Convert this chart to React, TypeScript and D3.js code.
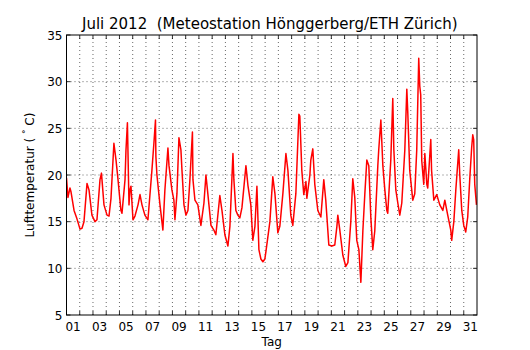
import * as d3 from 'd3';

// time in day-of-month (1.0 = 1 July 00:00), temperature in °C
const times = [
  1.00, 1.11, 1.26, 1.34, 1.57, 1.79, 2.02, 2.17, 2.32, 2.55, 2.70, 2.92, 3.15, 3.30, 3.53, 3.64,
  3.83, 4.06, 4.21, 4.36, 4.58, 4.74, 4.89, 5.11, 5.19, 5.42, 5.49, 5.60, 5.72, 5.79, 5.87, 6.02,
  6.17, 6.40, 6.55, 6.70, 6.92, 7.15, 7.45, 7.60, 7.72, 7.75, 7.83, 8.06, 8.28, 8.43, 8.66, 8.74,
  8.96, 9.11, 9.19, 9.34, 9.49, 9.64, 9.72, 9.87, 10.02, 10.17, 10.32, 10.51, 10.55, 10.70, 10.92,
  11.15, 11.38, 11.53, 11.68, 11.91, 12.13, 12.28, 12.58, 12.74, 12.96, 13.19, 13.34, 13.57, 13.64,
  13.79, 13.94, 14.09, 14.25, 14.55, 14.70, 14.92, 15.07, 15.23, 15.38, 15.53, 15.68, 15.83, 15.98,
  16.06, 16.36, 16.58, 16.74, 16.96, 17.11, 17.34, 17.57, 17.72, 17.94, 18.09, 18.32, 18.55, 18.62,
  18.77, 18.92, 19.08, 19.15, 19.38, 19.45, 19.60, 19.75, 19.98, 20.21, 20.43, 20.58, 20.81, 21.04,
  21.26, 21.42, 21.49, 21.64, 21.87, 22.09, 22.25, 22.47, 22.62, 22.77, 22.92, 23.08, 23.23, 23.38,
  23.53, 23.68, 23.83, 23.98, 24.13, 24.28, 24.51, 24.58, 24.74, 24.89, 25.04, 25.19, 25.26, 25.49,
  25.64, 25.72, 25.87, 26.02, 26.17, 26.32, 26.55, 26.70, 26.77, 26.92, 27.15, 27.30, 27.45, 27.60,
  27.68, 27.75, 27.83, 27.98, 28.06, 28.21, 28.28, 28.51, 28.57, 28.74, 28.96, 29.19, 29.42, 29.57,
  29.79, 30.02, 30.09, 30.25, 30.40, 30.62, 30.70, 30.85, 31.00, 31.15, 31.30, 31.45, 31.60, 31.68,
  31.75, 31.83, 31.96,
];
const temps = [
  19.7, 17.6, 18.6, 18.2, 16.2, 15.3, 14.2, 14.3, 15.0, 19.1, 18.4, 15.7, 15.0, 15.2, 19.5, 20.2,
  16.8, 15.7, 15.6, 17.5, 23.4, 21.6, 19.5, 16.2, 15.9, 19.5, 22.6, 25.6, 16.8, 18.4, 18.8, 15.2,
  15.6, 16.8, 17.9, 16.8, 15.7, 15.2, 20.5, 23.4, 25.9, 22.0, 20.0, 16.8, 14.1, 18.4, 22.9, 21.0,
  18.4, 17.3, 15.2, 18.0, 24.0, 22.7, 20.5, 16.8, 15.7, 16.2, 19.5, 24.6, 19.5, 17.3, 16.8,
  14.6, 17.0, 20.0, 17.9, 14.6, 14.1, 13.6, 17.8, 16.2, 13.6, 12.4, 14.5, 22.3, 19.5,
  16.2, 15.7, 15.4, 16.5, 21.0, 18.9, 16.8, 13.0, 14.5, 18.8, 12.0, 11.0, 10.7, 11.0,
  11.8, 15.0, 19.8, 18.0, 13.8, 14.5, 18.0, 22.3, 20.5, 15.7, 14.6, 18.0, 26.5, 26.3,
  20.5, 17.9, 19.3, 17.5, 20.0, 21.6, 22.8, 19.0, 16.2, 15.5, 19.5, 17.3, 12.5, 12.4,
  12.5, 14.5, 15.7, 14.1, 11.4, 10.2, 10.6, 15.0, 19.6, 17.6, 13.0, 12.0, 8.5, 14.0,
  18.0, 21.6, 21.0, 15.5, 12.0, 14.0, 21.0, 22.7, 25.9, 21.0, 18.4, 16.2, 15.9, 21.6,
  28.2, 22.7, 18.4, 17.0, 15.7, 17.0, 22.7, 29.2, 26.8, 20.5, 17.3, 18.0, 22.7, 32.5,
  29.5, 28.6, 21.5, 19.0, 22.3, 19.0, 18.6, 23.8, 20.5, 17.3, 17.9, 16.8, 16.2, 17.3,
  15.7, 14.1, 13.0, 15.0, 18.4, 22.7, 20.0, 16.2, 14.6, 13.9, 15.5, 19.5, 23.0, 24.3,
  23.8, 19.0, 16.8,
];

const days = d3.range(1, 32);
const dayLabels = days.filter(d => d % 2 === 1).map(d => (d < 10 ? '0' + d : '' + d));
const yTicks = [5, 10, 15, 20, 25, 30, 35];

const W = 530;
const H = 350;
const margin = { left: 66.5, right: 53, top: 35, bottom: 35 };
const FONT = "'DejaVu Sans', sans-serif";

export default function App() {
  const x = d3.scaleLinear().domain([1, 32]).range([margin.left, W - margin.right]);
  const y = d3.scaleLinear().domain([5, 35]).range([H - margin.bottom, margin.top]);
  const data = times.map((t, i) => ({ t, v: temps[i] }));
  const line = d3.line<{ t: number; v: number }>().x(d => x(d.t)).y(d => y(d.v));

  const x0 = x(1), x1 = x(32), y0 = y(5), y1 = y(35);
  const boundaries = d3.range(2, 32);

  return (
    <svg width={W} height={H} style={{ position: 'absolute', left: 0, top: 0, background: '#fff' }}
      fontFamily={FONT}>
      <rect x={0} y={0} width={W} height={H} fill="#fff" />
      {/* grid */}
      <g stroke="#000" strokeWidth={0.6} strokeDasharray="1,3">
        {boundaries.map(d => (
          <line key={'gx' + d} x1={x(d)} x2={x(d)} y1={y0} y2={y1} />
        ))}
        {yTicks.slice(1, -1).map(v => (
          <line key={'gy' + v} x1={x0} x2={x1} y1={y(v)} y2={y(v)} />
        ))}
      </g>
      {/* ticks */}
      <g stroke="#000" strokeWidth={0.8}>
        {boundaries.map(d => (
          <g key={'tx' + d}>
            <line x1={x(d)} x2={x(d)} y1={y0} y2={y0 - 4} />
            <line x1={x(d)} x2={x(d)} y1={y1} y2={y1 + 4} />
          </g>
        ))}
        {yTicks.map(v => (
          <g key={'ty' + v}>
            <line x1={x0} x2={x0 + 4} y1={y(v)} y2={y(v)} />
            <line x1={x1} x2={x1 - 4} y1={y(v)} y2={y(v)} />
          </g>
        ))}
      </g>
      {/* data */}
      <clipPath id="plotclip">
        <rect x={x0} y={y1} width={x1 - x0} height={y0 - y1} />
      </clipPath>
      <path d={line(data) || ''} fill="none" stroke="#ff0000" strokeWidth={1.5}
        strokeLinejoin="round" clipPath="url(#plotclip)" />
      {/* frame */}
      <rect x={x0} y={y1} width={x1 - x0} height={y0 - y1} fill="none" stroke="#000" strokeWidth={1} />
      {/* tick labels */}
      <g fontSize={12} fill="#000">
        {dayLabels.map(lbl => (
          <text key={'lx' + lbl} x={x(+lbl + 0.5)} y={y0 + 16} textAnchor="middle">{lbl}</text>
        ))}
        {yTicks.map(v => (
          <text key={'ly' + v} x={x0 - 4} y={y(v) + 4.5} textAnchor="end">{v}</text>
        ))}
      </g>
      <text x={(x0 + x1) / 2} y={y0 + 31} textAnchor="middle" fontSize={12}>Tag</text>
      <text transform={`translate(34,${(y0 + y1) / 2}) rotate(-90)`} textAnchor="middle" fontSize={12}>
        Lufttemperatur ( <tspan fontSize={9} dy={-5}>°</tspan><tspan dy={5}> C)</tspan>
      </text>
      <text x={(x0 + x1) / 2 - 2} y={29} textAnchor="middle" fontSize={15}>
        Juli 2012{'\u00a0\u00a0'}(Meteostation Hönggerberg/ETH Zürich)
      </text>
    </svg>
  );
}
